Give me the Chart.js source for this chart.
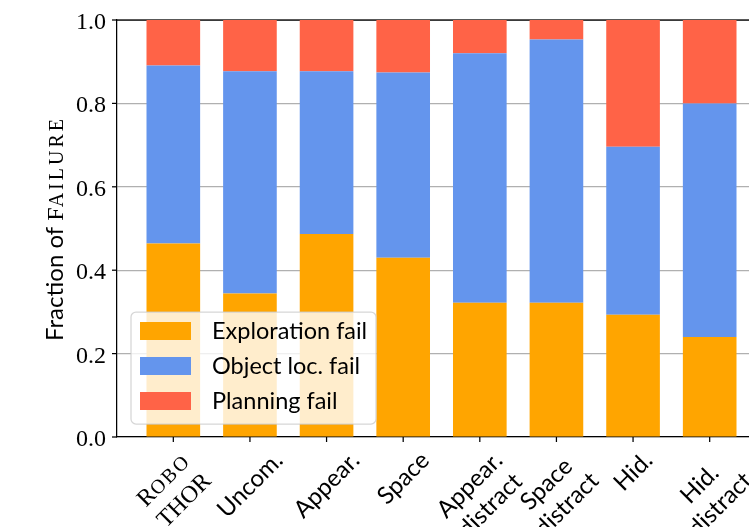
<!DOCTYPE html>
<html>
<head>
<meta charset="utf-8">
<script src="https://cdn.jsdelivr.net/npm/chart.js@4.4.0/dist/chart.umd.min.js"></script>
<style>
  html, body { margin: 0; padding: 0; overflow: hidden; background: #fff; }
</style>
</head>
<body>
<canvas id="myChart" width="800" height="527"></canvas>
<script>
//Chart Data
const categories = ["RoboTHOR", "Uncom.", "Appear.", "Space", "Appear.\ndistract", "Space\ndistract", "Hid.", "Hid.\ndistract"];
const explorationFail = [0.464, 0.344, 0.487, 0.430, 0.322, 0.322, 0.293, 0.240];
const objectLocFail = [0.427, 0.533, 0.390, 0.444, 0.598, 0.631, 0.403, 0.560];
const planningFail = [0.109, 0.123, 0.123, 0.126, 0.080, 0.047, 0.304, 0.200];
const seriesNames = ["Exploration fail", "Object loc. fail", "Planning fail"];
const seriesColors = ["#ffa500", "#6495ed", "#ff6347"];
const yTicks = [0.0, 0.2, 0.4, 0.6, 0.8, 1.0];

//Fonts
const SANS = "24px Lato";
const SERIF = "24px 'Liberation Serif'";
const SERIF_SC = "20px 'Liberation Serif'";

const ctx = document.getElementById("myChart").getContext("2d");

const toPoints = (arr) => arr.map((v, i) => ({ x: i, y: v }));

//Helpers for mixed font text (sp = extra letter spacing for small caps)
function segWidth(c, segs) {
  let w = 0;
  for (const s of segs) {
    c.font = s.f;
    w += c.measureText(s.t).width + (s.sp || 0) * s.t.length;
  }
  return w;
}

function drawSegs(c, segs, x, y) {
  c.textAlign = "left";
  c.textBaseline = "alphabetic";
  for (const s of segs) {
    c.font = s.f;
    if (s.sp) {
      for (const ch of s.t) {
        c.fillText(ch, x, y);
        x += c.measureText(ch).width + s.sp;
      }
    } else {
      c.fillText(s.t, x, y);
      x += c.measureText(s.t).width;
    }
  }
}

function labelLines(text) {
  if (text === "RoboTHOR") {
    return [
      [{ t: "R", f: SERIF }, { t: "OBO", f: SERIF_SC, sp: 2 }],
      [{ t: "THOR", f: SERIF }],
    ];
  }
  return text.split("\n").map((l) => [{ t: l, f: SANS }]);
}

//Axes, labels and legend drawn like the original figure
const decorations = {
  id: "decorations",
  beforeDatasetsDraw(chart) {
    const c = chart.ctx;
    const a = chart.chartArea;
    c.save();
    c.strokeStyle = "#000";
    c.lineWidth = 1.25;
    c.beginPath();
    c.moveTo(a.left, a.top);
    c.lineTo(a.right, a.top);
    c.lineTo(a.right, a.bottom);
    c.stroke();
    c.restore();
  },
  afterDatasetsDraw(chart) {
    const c = chart.ctx;
    const a = chart.chartArea;
    const xs = chart.scales.x;
    const ys = chart.scales.y;
    c.save();
    c.fillStyle = "#000";
    c.strokeStyle = "#000";
    c.lineWidth = 1.25;

    //y ticks
    for (const t of yTicks) {
      const py = ys.getPixelForValue(t);
      c.beginPath();
      c.moveTo(a.left - 5, py);
      c.lineTo(a.left, py);
      c.stroke();
      c.font = SERIF;
      c.textAlign = "right";
      c.textBaseline = "alphabetic";
      c.fillText(t.toFixed(1), a.left - 11, py + 9);
    }

    //x ticks and rotated labels
    const lineH = 28.8;
    for (let i = 0; i < categories.length; i++) {
      const px = xs.getPixelForValue(i);
      c.beginPath();
      c.moveTo(px, a.bottom);
      c.lineTo(px, a.bottom + 5);
      c.stroke();

      const lines = labelLines(categories[i]);
      const widths = lines.map((l) => segWidth(c, l));
      const W = Math.max(...widths);
      const H = lines.length * lineH;
      const half = (W + H) / (2 * Math.SQRT2);
      c.save();
      c.translate(px, a.bottom + 9 + half);
      c.rotate(-Math.PI / 4);
      lines.forEach((l, j) => {
        const ly = (j - (lines.length - 1) / 2) * lineH;
        drawSegs(c, l, -widths[j] / 2, ly + 8);
      });
      c.restore();
    }

    //y title
    const title = [
      { t: "Fraction of ", f: SANS },
      { t: "F", f: SERIF },
      { t: "AILURE", f: SERIF_SC, sp: 3 },
    ];
    const tw = segWidth(c, title);
    c.save();
    c.translate(63, (a.top + a.bottom) / 2);
    c.rotate(-Math.PI / 2);
    drawSegs(c, title, -tw / 2, 0);
    c.restore();

    //legend box
    const lx = a.left + 14;
    const ly = a.bottom - 125;
    const lw = 245;
    const lh = 112;
    c.beginPath();
    c.roundRect(lx, ly, lw, lh, 5);
    c.fillStyle = "rgba(255,255,255,0.8)";
    c.fill();
    c.strokeStyle = "rgba(204,204,204,0.8)";
    c.lineWidth = 1.25;
    c.stroke();
    for (let k = 0; k < seriesNames.length; k++) {
      const cy = ly + 19 + k * 35;
      c.fillStyle = seriesColors[k];
      c.fillRect(lx + 9, cy - 9, 51, 18);
      c.fillStyle = "#000";
      c.font = "23.5px Lato";
      c.textAlign = "left";
      c.textBaseline = "alphabetic";
      c.fillText(seriesNames[k], lx + 81, cy + 8);
    }
    c.restore();
  },
};

//Rendering Chart
const chartData = {
  datasets: [
    { label: seriesNames[0], data: toPoints(explorationFail), backgroundColor: seriesColors[0] },
    { label: seriesNames[1], data: toPoints(objectLocFail), backgroundColor: seriesColors[1] },
    { label: seriesNames[2], data: toPoints(planningFail), backgroundColor: seriesColors[2] },
  ],
};

const config = {
  type: "bar",
  data: chartData,
  options: {
    responsive: false,
    animation: false,
    devicePixelRatio: 1,
    barPercentage: 0.7,
    categoryPercentage: 1.0,
    layout: { padding: { left: 117, top: 20, right: 34, bottom: 90 } },
    plugins: { legend: { display: false }, tooltip: { enabled: false } },
    scales: {
      x: {
        type: "linear",
        stacked: true,
        offset: false,
        min: -0.735,
        max: 7.735,
        //one tick per category so the bar width uses the category spacing
        afterBuildTicks: (scale) => {
          scale.ticks = categories.map((_, i) => ({ value: i }));
        },
        grid: { display: false, drawTicks: false, offset: false },
        border: { display: true, color: "#000", width: 1.25 },
        ticks: { display: false },
      },
      y: {
        stacked: true,
        min: 0,
        max: 1,
        grid: { color: "#b0b0b0", lineWidth: 1.2, drawTicks: false },
        border: { display: true, color: "#000", width: 1.25 },
        ticks: { display: false, stepSize: 0.2 },
      },
    },
  },
  plugins: [decorations],
};

const myChart = new Chart(ctx, config);
</script>
</body>
</html>
